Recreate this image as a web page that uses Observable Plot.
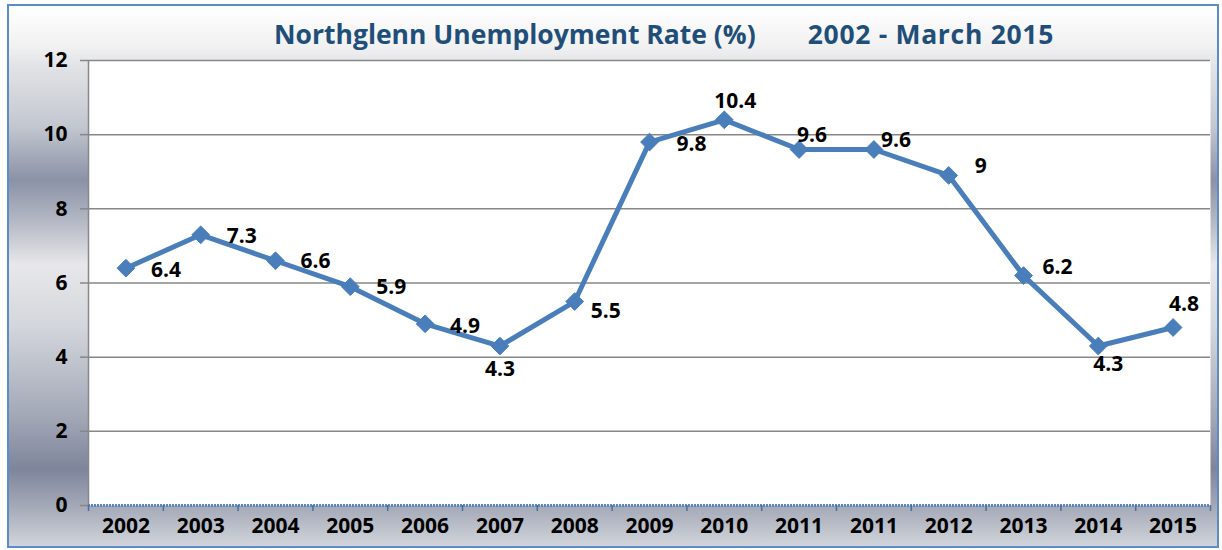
<!DOCTYPE html>
<html>
<head>
<meta charset="utf-8">
<script src="https://cdn.jsdelivr.net/npm/d3@7"></script>
<script src="https://cdn.jsdelivr.net/npm/@observablehq/plot@0.6"></script>
<style>
  html, body { margin: 0; padding: 0; background: #ffffff; }
  #wrap { position: relative; width: 1222px; height: 550px; overflow: hidden; font-family: "Open Sans", sans-serif; }
  #bg {
    position: absolute; left: 7px; top: 4px; width: 1212px; height: 544px; box-sizing: border-box;
    border: 2px solid #5b8cc8;
    background: linear-gradient(to bottom,
      #ffffff 0px, #f1f1f2 40px, #e2e3e6 60px, #c3c7d0 120px, #8b92a7 174px,
      #b4b8c4 215px, #e8e8ea 259px, #d3d6dc 320px, #a3a8b7 410px, #7e859b 463px,
      #a9aebb 505px, #d6d9de 544px);
  }
  #chart { position: absolute; left: 0; top: 0; }
  #title {
    position: absolute; left: 274px; top: 16px; white-space: nowrap;
    font-family: "Open Sans", sans-serif; font-weight: bold; font-size: 26.5px; color: #1f4e79;
  }
  #title span + span { margin-left: 52px; letter-spacing: 0.7px; }
</style>
</head>
<body>
<div id="wrap">
  <div id="bg"></div>
  <div id="chart"></div>
  <div id="title"><span>Northglenn Unemployment Rate (%)</span><span>2002 - March 2015</span></div>
</div>
<script>
// ---- data ----
const xLabels = ["2002","2003","2004","2005","2006","2007","2008","2009","2010","2011","2011","2012","2013","2014","2015"];
const rates   = [6.4, 7.3, 6.6, 5.9, 4.9, 4.3, 5.5, 9.8, 10.4, 9.6, 9.6, 8.9, 6.2, 4.3, 4.8];
const rateLabels = ["6.4","7.3","6.6","5.9","4.9","4.3","5.5","9.8","10.4","9.6","9.6","9","6.2","4.3","4.8"];
const yTicks = [0, 2, 4, 6, 8, 10, 12];
// label placement nudges (pixels, relative to each point)
const labelNudge = [[40,2],[41,1],[40,1],[41,1],[40,2],[0,23],[31,10],[42,2],[11,-19],[13,-14],[22,-9],[32,-9],[34,-8],[10,18],[11,-23]];

const data = rates.map((v, i) => ({i, v, label: rateLabels[i]}));
const blue = "#4a7ebb";
const grey = "#878787";

const chart = Plot.plot({
  width: 1222,
  height: 550,
  marginLeft: 88,
  marginRight: 12,
  marginTop: 60,
  marginBottom: 45,
  style: {background: "transparent", fontFamily: "'Open Sans', sans-serif", fontSize: "21px", fontWeight: "bold", color: "black"},
  x: {type: "linear", domain: [-0.5, xLabels.length - 0.5], label: null},
  y: {domain: [0, 12], label: null},
  marks: [
    Plot.frame({fill: "white", stroke: null}),
    Plot.gridY({ticks: yTicks.filter(t => t > 0), stroke: grey, strokeOpacity: 1, strokeWidth: 1.5}),
    Plot.ruleX([-0.5], {stroke: grey, strokeWidth: 1.5}),
    Plot.axisY({ticks: yTicks, label: null, tickSize: 8, tickPadding: 13, stroke: grey, strokeWidth: 1.5, strokeOpacity: 1, fill: "black", fontWeight: "bold", fontSize: 21}),
    Plot.ruleY([0], {stroke: "#5a85bd", strokeWidth: 3, strokeDasharray: "2,1"}),
    Plot.axisX({ticks: d3.range(xLabels.length + 1).map(k => k - 0.5), label: null, tickSize: 6, tickFormat: () => "", stroke: "#4a6fa5", strokeWidth: 1.5, strokeOpacity: 1}),
    Plot.axisX({ticks: d3.range(xLabels.length), label: null, tickSize: 0, tickPadding: 13, tickFormat: k => xLabels[k], fill: "black", fontWeight: "bold", fontSize: 21}),
    Plot.line(data, {x: "i", y: "v", stroke: blue, strokeWidth: 5, strokeLinejoin: "round"}),
    Plot.dot(data, {x: "i", y: "v", symbol: "diamond2", r: 8, fill: blue, stroke: blue, strokeWidth: 1}),
    ...data.map((d, k) => Plot.text([d], {x: "i", y: "v", text: "label", dx: labelNudge[k][0], dy: labelNudge[k][1], fill: "black", fontWeight: "bold", fontSize: 21}))
  ]
});
document.getElementById("chart").appendChild(chart);
</script>
</body>
</html>
